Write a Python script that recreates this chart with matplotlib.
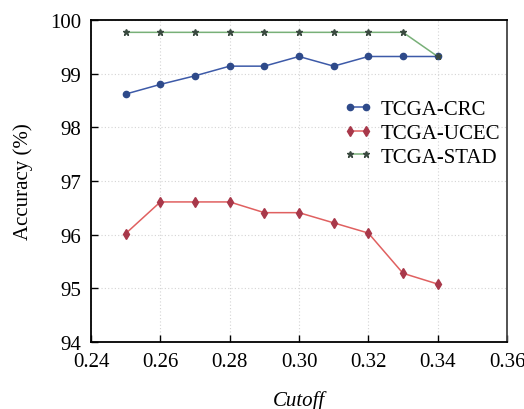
import numpy as np
import matplotlib
matplotlib.use("Agg")
import matplotlib.pyplot as plt

cutoff = [0.25, 0.26, 0.27, 0.28, 0.29, 0.30, 0.31, 0.32, 0.33, 0.34]
crc = [98.62, 98.80, 98.96, 99.14, 99.14, 99.32, 99.14, 99.32, 99.32, 99.32]
ucec = [96.02, 96.61, 96.61, 96.61, 96.41, 96.41, 96.22, 96.03, 95.28, 95.08]
stad = [99.77, 99.77, 99.77, 99.77, 99.77, 99.77, 99.77, 99.77, 99.77, 99.32]
xticks = [0.24, 0.26, 0.28, 0.30, 0.32, 0.34, 0.36]
yticks = [94, 95, 96, 97, 98, 99, 100]

plt.rcParams["font.family"] = ["Liberation Serif", "DejaVu Serif"]
fig = plt.figure(figsize=(5.24, 4.10), dpi=100)
ax = fig.add_axes([91/524, 1-343/410, 416/524, 322/410])

ax.plot(cutoff, crc, color="#3d5aa8", lw=1.1, marker="o", ms=4.5, mfc="#2e4a8a", mec="#2e4a8a", label="TCGA-CRC")
ax.plot(cutoff, ucec, color="#e06060", lw=1.1, marker="d", ms=5, mfc="#a8384a", mec="#a8384a", label="TCGA-UCEC")
ax.plot(cutoff, stad, color="#78b078", lw=1.1, marker="*", ms=5, mfc="#3a4a40", mec="#3a4a40", label="TCGA-STAD")

ax.set_xlim(0.24, 0.36); ax.set_ylim(94, 100)
ax.set_xticks(xticks); ax.set_xticklabels([f"{v:.2f}" for v in xticks])
ax.set_yticks(yticks)
ax.tick_params(direction="in", labelsize=15, length=5, width=1, pad=7, top=False, right=False)
ax.grid(True, ls=(0, (1, 2)), color="#d4d4d4", lw=0.8)
for s in ["left", "bottom", "top"]:
    ax.spines[s].set_linewidth(1.3); ax.spines[s].set_color("black")
ax.spines["right"].set_linewidth(1.3); ax.spines["right"].set_color("#444444")

ax.set_ylabel("Accuracy (%)", fontsize=15, labelpad=12)
ax.set_xlabel("Cutoff", fontsize=15, style="italic", labelpad=14)
ax.legend(loc="upper left", bbox_to_anchor=(0.582, 0.785), frameon=False, fontsize=15,
          numpoints=2, handlelength=1.4, handletextpad=0.4, labelspacing=0.2, borderpad=0)

fig.savefig("out.png", dpi=100)
